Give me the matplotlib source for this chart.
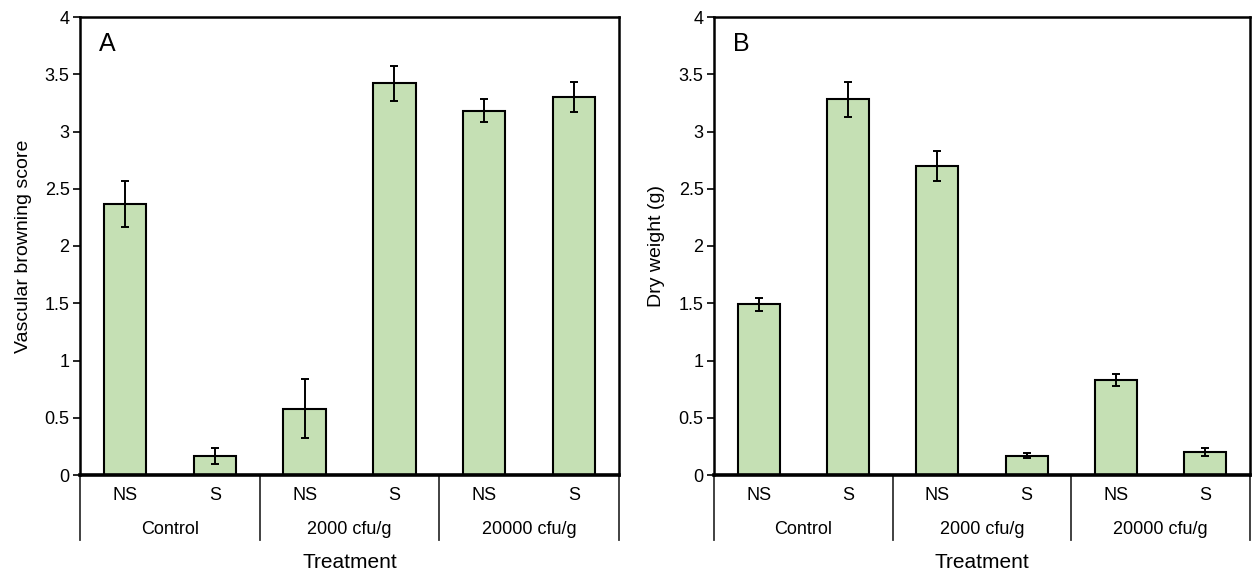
import numpy as np
import matplotlib.pyplot as plt
from matplotlib.transforms import blended_transform_factory

plt.rcParams['font.family'] = ['Liberation Sans', 'DejaVu Sans']

# data
subLabels = ["NS", "S", "NS", "S", "NS", "S"]
groupLabels = ["Control", "2000 cfu/g", "20000 cfu/g"]

browning = [2.37, 0.17, 0.58, 3.42, 3.18, 3.30]
browningErr = [0.20, 0.07, 0.26, 0.15, 0.10, 0.13]

dryWeight = [1.49, 3.28, 2.70, 0.17, 0.83, 0.20]
dryWeightErr = [0.06, 0.15, 0.13, 0.02, 0.05, 0.035]

barColor = "#C5E0B4"

fig = plt.figure(figsize=(12.56, 5.76), dpi=100)
axA = fig.add_axes([80/1256, 1 - 475/576, 539/1256, 458/576])
axB = fig.add_axes([714/1256, 1 - 475/576, 536/1256, 458/576])


def drawPanel(ax, vals, errs, ylabel, letter, labelX):
    x = np.arange(len(vals))
    ax.bar(x, vals, width=0.47, color=barColor, edgecolor="black", linewidth=1.5, zorder=2)
    ax.errorbar(x, vals, yerr=errs, fmt="none", ecolor="black", elinewidth=1.4,
                capsize=3, capthick=1.4, zorder=3)
    ax.set_xlim(-0.5, len(vals) - 0.5)
    ax.set_ylim(0, 4)
    ax.set_yticks(np.arange(0, 4.01, 0.5))
    ax.set_yticklabels(["0", "0.5", "1", "1.5", "2", "2.5", "3", "3.5", "4"])
    ax.tick_params(axis="y", direction="out", length=5, width=1.2, labelsize=13, pad=2.5)
    ax.set_xticks(x)
    ax.set_xticklabels(subLabels)
    ax.tick_params(axis="x", length=0, labelsize=13, pad=9)
    for s in ["top", "right", "left"]:
        ax.spines[s].set_linewidth(1.8)
    ax.spines["bottom"].set_linewidth(2.6)
    ax.set_ylabel(ylabel, fontsize=14)
    ax.yaxis.set_label_coords(labelX, 0.5)  # right edge of the rotated label
    ax.text(0.035, 0.94, letter, transform=ax.transAxes, fontsize=18, va="center", ha="left")

    # group labels and dividers under the axis
    trans = blended_transform_factory(ax.transData, ax.transAxes)
    for xd in [-0.5, 1.5, 3.5, 5.5]:
        ax.plot([xd, xd], [0, -0.143], color="#333333", linewidth=1.3,
                transform=trans, clip_on=False)
    for i, g in enumerate(groupLabels):
        ax.text(2 * i + 0.5, -0.12, g, transform=trans, ha="center", va="center", fontsize=13)
    ax.text(2.5, -0.19, "Treatment", transform=trans, ha="center", va="center", fontsize=15)


drawPanel(axA, browning, browningErr, "Vascular browning score", "A", -0.089)
drawPanel(axB, dryWeight, dryWeightErr, "Dry weight (g)", "B", -0.091)

fig.savefig("out.png", dpi=100)
